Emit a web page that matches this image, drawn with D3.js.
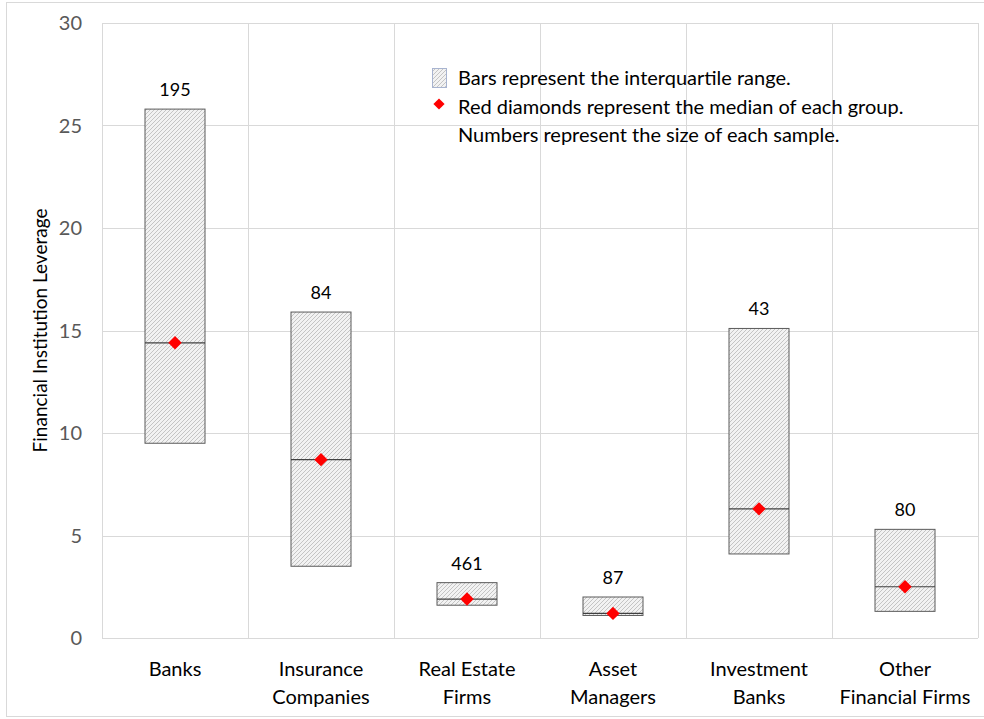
<!DOCTYPE html>
<html>
<head>
<meta charset="utf-8">
<script src="https://cdn.jsdelivr.net/npm/d3@7"></script>
<style>
  body { margin: 0; background: #fff; }
  svg text { font-family: Lato, "Open Sans", sans-serif; }
</style>
</head>
<body>
<svg id="chart" width="984" height="719"></svg>
<script>
// data
var categories = [["Banks"], ["Insurance", "Companies"], ["Real Estate", "Firms"],
                  ["Asset", "Managers"], ["Investment", "Banks"], ["Other", "Financial Firms"]];
var q1 = [9.5, 3.5, 1.6, 1.1, 4.1, 1.3];
var q3 = [25.8, 15.9, 2.7, 2.0, 15.1, 5.3];
var medians = [14.4, 8.7, 1.9, 1.2, 6.3, 2.5];
var sampleSizes = [195, 84, 461, 87, 43, 80];
var yTicks = [0, 5, 10, 15, 20, 25, 30];
var legendLines = ["Bars represent the interquartile range.",
                   "Red diamonds represent the median of each group.",
                   "Numbers represent the size of each sample."];

var svg = d3.select("#chart");
var margin = {left: 102, right: 978, top: 23, bottom: 638};

// outer chart border
svg.append("rect").attr("x", 6.5).attr("y", 2.5).attr("width", 990).attr("height", 714)
  .attr("fill", "none").attr("stroke", "#d9d9d9");

var x = d3.scaleBand().domain(d3.range(categories.length))
  .range([margin.left, margin.right]).paddingInner(0).paddingOuter(0);
var y = d3.scaleLinear().domain([0, 30]).range([margin.bottom, margin.top]);

// hatch pattern
var defs = svg.append("defs");
var pat = defs.append("pattern").attr("id", "hatch").attr("patternUnits", "userSpaceOnUse")
  .attr("width", 4).attr("height", 4);
pat.append("rect").attr("width", 4).attr("height", 4).attr("fill", "#f2f2f2");
pat.append("path").attr("d", "M-1,1 l2,-2 M0,4 l4,-4 M3,5 l2,-2")
  .attr("stroke", "#c4c4c4").attr("stroke-width", 1);

// gridlines
svg.append("g").selectAll("line").data(yTicks).enter().append("line")
  .attr("x1", margin.left).attr("x2", margin.right)
  .attr("y1", function(d) { return Math.round(y(d)) + 0.5; })
  .attr("y2", function(d) { return Math.round(y(d)) + 0.5; })
  .attr("stroke", "#d9d9d9");
svg.append("g").selectAll("line").data(d3.range(categories.length + 1)).enter().append("line")
  .attr("x1", function(d) { return Math.round(margin.left + d * x.bandwidth()) + 0.5; })
  .attr("x2", function(d) { return Math.round(margin.left + d * x.bandwidth()) + 0.5; })
  .attr("y1", margin.top).attr("y2", margin.bottom)
  .attr("stroke", "#d9d9d9");

// y axis labels
svg.append("g").selectAll("text").data(yTicks).enter().append("text")
  .attr("x", 82).attr("y", function(d) { return y(d) + 7; })
  .attr("text-anchor", "end").attr("font-size", 20).attr("fill", "#595959")
  .text(function(d) { return d; });

svg.append("text")
  .attr("transform", "translate(47," + y(15) + ") rotate(-90)")
  .attr("text-anchor", "middle").attr("font-size", 19).attr("fill", "#000")
  .text("Financial Institution Leverage");

var barW = 60;
var idx = d3.range(categories.length);

// boxes
svg.append("g").selectAll("rect").data(idx).enter().append("rect")
  .attr("x", function(i) { return x(i) + x.bandwidth() / 2 - barW / 2; })
  .attr("y", function(i) { return y(q3[i]); })
  .attr("width", barW)
  .attr("height", function(i) { return y(q1[i]) - y(q3[i]); })
  .attr("fill", "url(#hatch)").attr("stroke", "#5a5a5a").attr("stroke-width", 1);

// median lines
svg.append("g").selectAll("line").data(idx).enter().append("line")
  .attr("x1", function(i) { return x(i) + x.bandwidth() / 2 - barW / 2; })
  .attr("x2", function(i) { return x(i) + x.bandwidth() / 2 + barW / 2; })
  .attr("y1", function(i) { return y(medians[i]); })
  .attr("y2", function(i) { return y(medians[i]); })
  .attr("stroke", "#404040").attr("stroke-width", 1.2);

// median diamonds
var diamond = d3.symbol().type(d3.symbolDiamond2).size(115);
svg.append("g").selectAll("path").data(idx).enter().append("path")
  .attr("d", diamond)
  .attr("transform", function(i) {
    return "translate(" + (x(i) + x.bandwidth() / 2) + "," + y(medians[i]) + ")";
  })
  .attr("fill", "#ff0000");

// sample sizes
svg.append("g").selectAll("text").data(idx).enter().append("text")
  .attr("x", function(i) { return x(i) + x.bandwidth() / 2; })
  .attr("y", function(i) { return y(q3[i]) - 13; })
  .attr("text-anchor", "middle").attr("font-size", 18).attr("fill", "#000")
  .text(function(i) { return sampleSizes[i]; });

// category labels
var cat = svg.append("g").selectAll("text").data(idx).enter().append("text")
  .attr("x", function(i) { return x(i) + x.bandwidth() / 2; })
  .attr("y", 676)
  .attr("text-anchor", "middle").attr("font-size", 20).attr("fill", "#000");
cat.selectAll("tspan").data(function(i) { return categories[i]; }).enter().append("tspan")
  .attr("x", function() { return d3.select(this.parentNode).attr("x"); })
  .attr("dy", function(d, j) { return j === 0 ? 0 : 28; })
  .text(function(d) { return d; });

// legend
var lg = svg.append("g");
lg.append("rect").attr("x", 432.5).attr("y", 68.5).attr("width", 14).attr("height", 19)
  .attr("fill", "url(#hatch)").attr("stroke", "#a8b4d0");
lg.append("path").attr("d", d3.symbol().type(d3.symbolDiamond2).size(80))
  .attr("transform", "translate(439,104)").attr("fill", "#ff0000");
lg.selectAll("text").data(legendLines).enter().append("text")
  .attr("x", 458).attr("y", function(d, j) { return 85 + j * 28.5; })
  .attr("font-size", 20).attr("fill", "#000")
  .text(function(d) { return d; });
</script>
</body>
</html>
